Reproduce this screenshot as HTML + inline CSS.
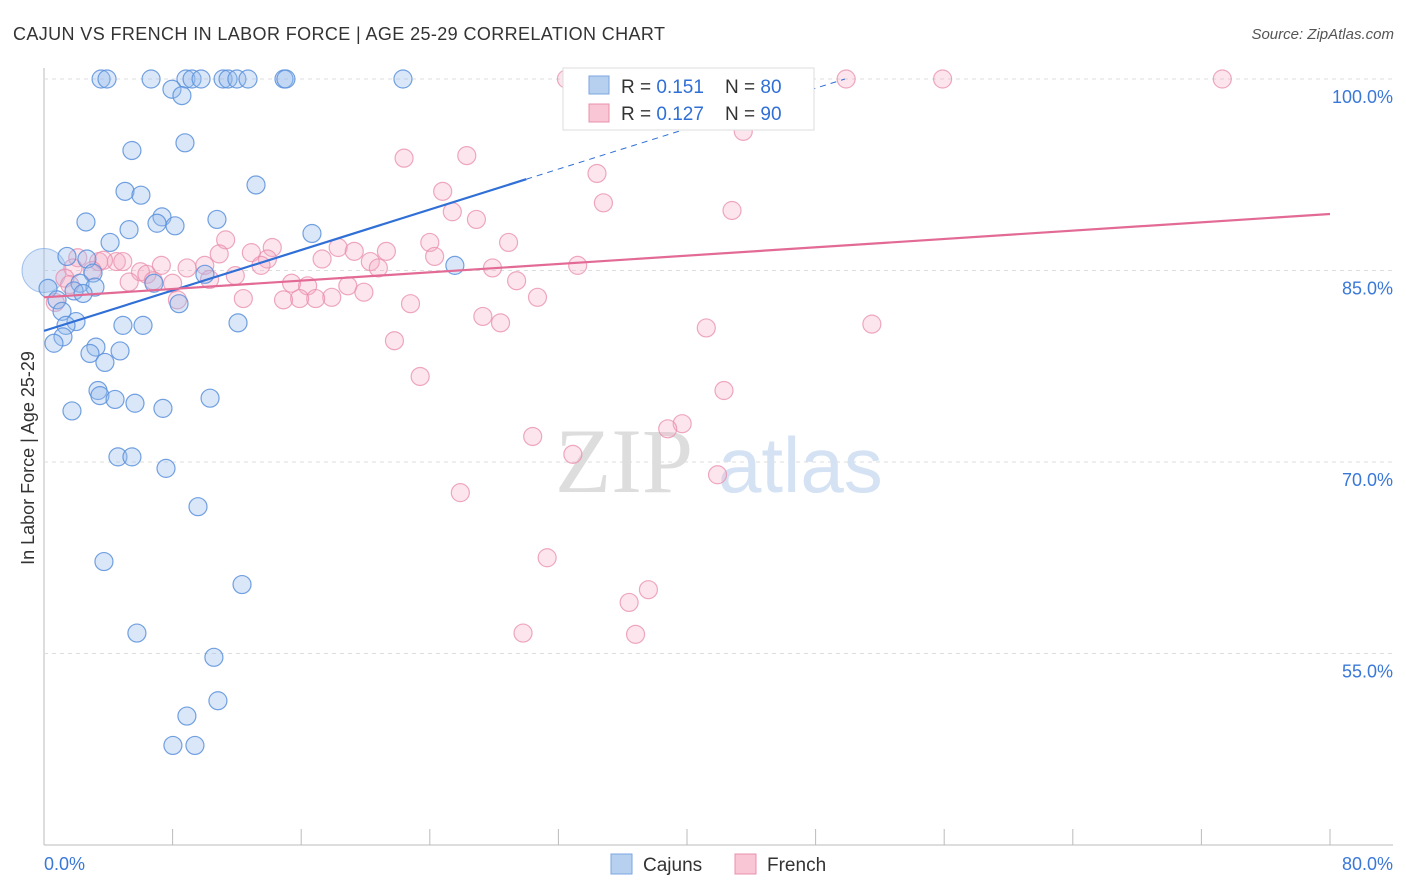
<!DOCTYPE html>
<html><head><meta charset="utf-8"><style>
body{margin:0;background:#fff;font-family:"Liberation Sans",sans-serif;}
#wrap{position:relative;width:1406px;height:892px;overflow:hidden;}
</style></head><body><div id="wrap">
<svg id="svg" width="1406" height="892" xmlns="http://www.w3.org/2000/svg">
<text x="13" y="40" font-size="18" fill="#333" textLength="652" lengthAdjust="spacing">CAJUN VS FRENCH IN LABOR FORCE | AGE 25-29 CORRELATION CHART</text>
<text x="1394" y="39" font-size="15" fill="#555" font-style="italic" text-anchor="end">Source: ZipAtlas.com</text>
<text x="34" y="458" font-size="18" fill="#333" text-anchor="middle" transform="rotate(-90 34 458)">In Labor Force | Age 25-29</text>
<g id="grid"></g>
<text x="555" y="492" font-size="92" fill="#ddd" font-family="Liberation Serif,serif">ZIP</text>
<text x="718" y="492" font-size="78" fill="#d4e2f4">atlas</text>
<g id="pts"></g>
<g id="lines"></g>
<g>
<rect x="563" y="68" width="251" height="62" fill="#fff" stroke="#ddd"/>
<rect x="589" y="76" width="20" height="18" fill="#b8d0f0" stroke="#7aa6e0"/>
<text x="621" y="93" font-size="19" fill="#333">R = <tspan fill="#2f6fd6">0.151</tspan></text>
<text x="725" y="93" font-size="19" fill="#333">N = <tspan fill="#2f6fd6">80</tspan></text>
<rect x="589" y="104" width="20" height="18" fill="#f8c6d4" stroke="#e890ac"/>
<text x="621" y="120" font-size="19" fill="#333">R = <tspan fill="#2f6fd6">0.127</tspan></text>
<text x="725" y="120" font-size="19" fill="#333">N = <tspan fill="#2f6fd6">90</tspan></text>
</g>
<g>
<rect x="611" y="854" width="21" height="20" fill="#b8d0f0" stroke="#7aa6e0"/>
<text x="643" y="871" font-size="19" fill="#333">Cajuns</text>
<rect x="735" y="854" width="21" height="20" fill="#f8c6d4" stroke="#e890ac"/>
<text x="767" y="871" font-size="19" fill="#333">French</text>
</g>
<text x="44" y="870" font-size="18" fill="#3a78d8">0.0%</text>
<text x="1393" y="870" font-size="18" fill="#3a78d8" text-anchor="end">80.0%</text>
</svg></div>
<script>
const yTicks=[100,85,70,55];
const xTicks=[0,8,16,24,32,40,48,56,64,72,80];
const cajunX=[3.55,3.92,6.66,8.83,9.21,9.77,11.14,11.45,12.0,12.69,14.93,15.05,22.33,7.96,8.58,5.47,8.77,5.04,6.03,13.19,2.61,7.34,10.76,8.15,7.03,5.29,4.11,16.67,1.43,2.67,25.56,3.05,0.25,2.24,3.17,6.84,10.01,0.81,1.87,2.43,8.40,1.12,1.99,4.91,6.16,12.07,1.37,1.18,0.62,3.23,2.86,4.73,3.79,3.36,3.48,4.42,5.66,7.40,10.33,1.74,4.60,5.47,7.59,9.58,3.73,12.32,5.78,10.57,8.89,10.82,8.02,9.39];
const cajunY=[100,100,100,100,100,100,100,100,100,100,100,100,100,99.2,98.7,94.4,95.0,91.2,90.9,91.7,88.8,89.2,89.0,88.5,88.7,88.2,87.2,87.9,86.1,85.9,85.4,84.8,83.6,84.0,83.7,84.0,84.7,82.7,83.4,83.2,82.4,81.8,81.0,80.7,80.7,80.9,80.7,79.8,79.3,79.0,78.5,78.7,77.8,75.6,75.2,74.9,74.6,74.2,75.0,74.0,70.4,70.4,69.5,66.5,62.2,60.4,56.6,54.7,50.1,51.3,47.8,47.8];
const frenchX=[32.5,38.4,44.3,45.1,49.9,55.9,73.3,43.5,22.4,26.3,34.4,24.8,34.8,42.8,25.4,26.9,11.3,24.0,28.9,14.2,18.3,12.9,19.3,21.3,24.3,10.9,13.9,17.3,20.3,20.8,13.5,2.1,3.4,4.5,4.9,3.7,7.3,8.9,10.0,1.8,3.0,6.0,6.4,11.9,10.3,5.3,6.8,8.0,1.3,1.6,15.4,16.4,27.9,29.4,33.2,18.9,19.9,17.9,16.9,15.9,14.9,12.4,8.3,30.7,22.8,0.7,27.3,28.4,41.2,51.5,21.8,23.4,42.3,39.7,38.8,30.4,32.9,41.9,25.9,31.3,37.6,36.4,29.8,36.8];
const frenchY=[100,100,100,100,100,100,100,95.9,93.8,94.0,92.6,91.2,90.3,89.7,89.6,89.0,87.4,87.2,87.2,86.8,86.8,86.4,86.5,86.5,86.1,86.3,85.9,85.9,85.7,85.2,85.4,86.0,85.7,85.7,85.7,85.8,85.4,85.2,85.4,85.2,85.0,84.9,84.7,84.6,84.3,84.1,84.2,84.0,84.4,83.9,84.0,83.8,85.2,84.2,85.4,83.8,83.3,82.9,82.8,82.8,82.7,82.8,82.7,82.9,82.4,82.5,81.4,80.9,80.5,80.8,79.5,76.7,75.6,73.0,72.6,72.0,70.6,69.0,67.6,62.5,60.0,59.0,56.6,56.5];
const cajunTrend=[80.27,0.396]; // intercept, slope
const frenchTrend=[82.9,0.0816];
const X=v=>44+v*1286/80, Y=v=>79+(100-v)*191.5/15;
const NS="http://www.w3.org/2000/svg";
function mk(t,a,p){const e=document.createElementNS(NS,t);for(const k in a)e.setAttribute(k,a[k]);p.appendChild(e);return e;}
const grid=document.getElementById('grid');
mk('line',{x1:44,y1:68,x2:44,y2:845,stroke:'#bbb'},grid);
mk('line',{x1:44,y1:845,x2:1393,y2:845,stroke:'#bbb'},grid);
yTicks.forEach(t=>{const l=mk('line',{x1:44,x2:1393,y1:Y(t),y2:Y(t),stroke:'#ddd','stroke-dasharray':'4,4'},grid);


const tx=mk('text',{x:1393,y:Y(t)+24,'font-size':18,fill:'#3a78d8','text-anchor':'end'},grid);tx.textContent=t.toFixed(1)+'%';

});
xTicks.forEach(t=>{const l=mk('line',{x1:X(t),x2:X(t),y1:829,y2:845,stroke:'#bbb'},grid);

});
const pts=document.getElementById('pts');
const big=mk('circle',{cx:X(0),cy:Y(85),r:22,fill:'rgba(150,185,235,0.35)',stroke:'rgba(110,160,225,0.6)'},pts);


frenchX.forEach((x,i)=>{const c=mk('circle',{cx:X(x),cy:Y(frenchY[i]),r:9,fill:'rgba(245,170,195,0.3)',stroke:'rgba(232,140,172,0.75)','stroke-width':1.2},pts);

});
cajunX.forEach((x,i)=>{const c=mk('circle',{cx:X(x),cy:Y(cajunY[i]),r:9,fill:'rgba(150,185,235,0.35)',stroke:'rgba(90,145,220,0.85)','stroke-width':1.2},pts);

});
const lg=document.getElementById('lines');
const f=(tr,x)=>tr[0]+tr[1]*x;
const xEnd=(100-cajunTrend[0])/cajunTrend[1];
let l=mk('line',{x1:X(0),y1:Y(f(cajunTrend,0)),x2:X(30),y2:Y(f(cajunTrend,30)),stroke:'#2f6fd6','stroke-width':2.2},lg);


l=mk('line',{x1:X(30),y1:Y(f(cajunTrend,30)),x2:X(xEnd),y2:Y(f(cajunTrend,xEnd)),stroke:'#2f6fd6','stroke-width':1,'stroke-dasharray':'6,5'},lg);


l=mk('line',{x1:X(0),y1:Y(f(frenchTrend,0)),x2:X(80),y2:Y(f(frenchTrend,80)),stroke:'#e26a95','stroke-width':2.2},lg);


</script></body></html>
